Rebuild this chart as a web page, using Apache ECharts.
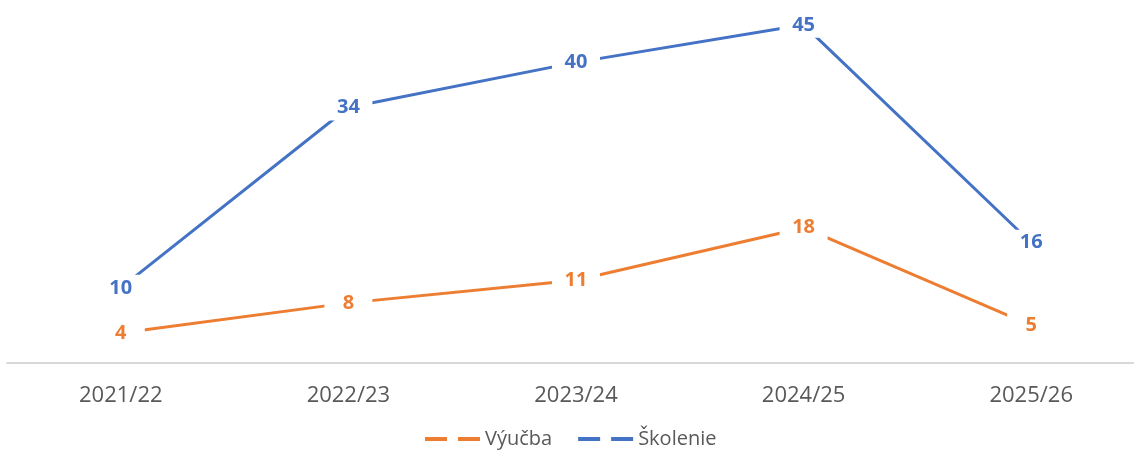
<!DOCTYPE html>
<html>
<head>
<meta charset="utf-8">
<script src="https://cdn.jsdelivr.net/npm/echarts@6/dist/echarts.min.js"></script>
<style>
  html, body { margin: 0; padding: 0; background: #fff; overflow: hidden; }
  #chart { width: 1145px; height: 454px; }
</style>
</head>
<body>
<div id="chart"></div>
<script>
// kategórie (školské roky)
const years = ['2021/22', '2022/23', '2023/24', '2024/25', '2025/26']
// hodnoty sérií
const vyucba = [4, 8, 11, 18, 5]
const skolenie = [10, 34, 40, 45, 16]

const chart = echarts.init(document.getElementById('chart'))

// štítok s bielym pozadím, ktorý prerušuje čiaru
const makeLabel = (color) => ({
    show: true,
    position: 'inside',
    color: color,
    fontFamily: 'Open Sans',
    fontWeight: 'bold',
    fontSize: 20,
    backgroundColor: '#fff',
    width: 26,
    align: 'center',
    padding: [3, 11]
})

const dashIcon = 'path://M0,0h22v4h-22z M33,0h22v4h-22z'

chart.setOption({
    animation: false,
    grid: { left: 7, right: 0, top: 0, height: 363 },
    legend: {
        bottom: 0,
        left: 420,
        itemWidth: 55,
        itemHeight: 4,
        itemGap: 26,
        textStyle: { color: '#595959', fontSize: 20, fontFamily: 'Open Sans' },
        data: [
            { name: 'Výučba', icon: dashIcon },
            { name: 'Školenie', icon: dashIcon }
        ]
    },
    xAxis: {
        type: 'category',
        data: years,
        boundaryGap: true,
        axisLine: { lineStyle: { color: '#d9d9d9', width: 2 } },
        axisTick: { show: false },
        axisLabel: { color: '#595959', fontSize: 22, fontFamily: 'Open Sans', margin: 22 }
    },
    yAxis: {
        type: 'value',
        min: 0,
        max: 48.3,
        show: false
    },
    series: [
        {
            name: 'Výučba',
            type: 'line',
            data: vyucba,
            color: '#ED7D31',
            symbol: 'circle',
            symbolSize: 1,
            lineStyle: { width: 3 },
            label: makeLabel('#ED7D31')
        },
        {
            name: 'Školenie',
            type: 'line',
            data: skolenie,
            color: '#4472C4',
            symbol: 'circle',
            symbolSize: 1,
            lineStyle: { width: 3 },
            label: makeLabel('#4472C4')
        }
    ]
})
</script>
</body>
</html>
